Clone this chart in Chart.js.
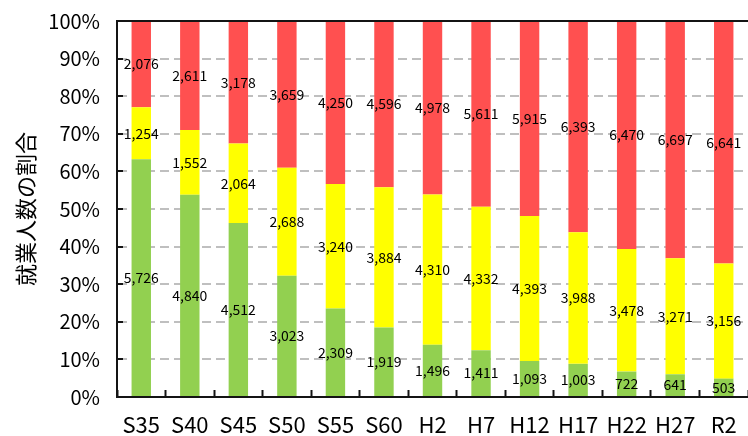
<!DOCTYPE html>
<html>
<head>
    <meta charset="utf-8">
    <script src="https://cdn.jsdelivr.net/npm/chart.js"></script>
    <style>
        body {
            margin: 0;
            background-color: #ffffff;
        }

        .chart-box {
            width: 748px;
            height: 436px;
        }
    </style>
</head>
<body>
    <div class="chart-box">
        <canvas id="workChart"></canvas>
    </div>

    <script>
        // 年次
        const years = ['S35', 'S40', 'S45', 'S50', 'S55', 'S60', 'H2', 'H7', 'H12', 'H17', 'H22', 'H27', 'R2'];

        // 就業人数（人）
        const primary = [5726, 4840, 4512, 3023, 2309, 1919, 1496, 1411, 1093, 1003, 722, 641, 503];
        const secondary = [1254, 1552, 2064, 2688, 3240, 3884, 4310, 4332, 4393, 3988, 3478, 3271, 3156];
        const tertiary = [2076, 2611, 3178, 3659, 4250, 4596, 4978, 5611, 5915, 6393, 6470, 6697, 6641];

        const yTicks = [0, 10, 20, 30, 40, 50, 60, 70, 80, 90, 100];

        const totals = years.map((y, i) => primary[i] + secondary[i] + tertiary[i]);
        const toShare = arr => arr.map((v, i) => v / totals[i] * 100);

        Chart.defaults.font.family = '"Noto Sans CJK JP", "Noto Sans", sans-serif';
        Chart.defaults.color = '#000000';

        // 値ラベル（各区分の中央に人数を表示）
        const valueLabels = {
            id: 'valueLabels',
            afterDatasetsDraw(chart) {
                const ctx = chart.ctx;
                ctx.save();
                ctx.font = '14px "Noto Sans CJK JP", sans-serif';
                ctx.fillStyle = '#000000';
                ctx.textAlign = 'center';
                ctx.textBaseline = 'middle';
                chart.data.datasets.forEach((ds, di) => {
                    const meta = chart.getDatasetMeta(di);
                    meta.data.forEach((bar, i) => {
                        ctx.fillText(ds.raw[i].toLocaleString('en-US'), bar.x, (bar.y + bar.base) / 2);
                    });
                });
                ctx.restore();
            }
        };

        // 枠線（上・左・下）をもう一度上から描く
        const frameLines = {
            id: 'frameLines',
            afterDraw(chart) {
                const ctx = chart.ctx;
                const a = chart.chartArea;
                ctx.save();
                ctx.setLineDash([]);
                ctx.globalAlpha = 1;
                ctx.strokeStyle = 'rgb(20, 20, 20)';
                ctx.lineWidth = 2;
                ctx.beginPath();
                ctx.moveTo(a.right, a.top);
                ctx.lineTo(a.left, a.top);
                ctx.lineTo(a.left, a.bottom);
                ctx.lineTo(a.right, a.bottom);
                ctx.stroke();
                ctx.restore();
            }
        };

        const noSidePadding = s => {
            s.paddingLeft = 0;
            s.paddingRight = 0;
        };

        new Chart(document.getElementById('workChart'), {
            type: 'bar',
            data: {
                labels: years,
                datasets: [
                    { label: '第1次産業', data: toShare(primary), raw: primary, backgroundColor: '#92d050' },
                    { label: '第2次産業', data: toShare(secondary), raw: secondary, backgroundColor: '#ffff00' },
                    { label: '第3次産業', data: toShare(tertiary), raw: tertiary, backgroundColor: '#ff5050' }
                ]
            },
            options: {
                responsive: true,
                maintainAspectRatio: false,
                animation: false,
                layout: { padding: { top: 21, right: 0, left: 0, bottom: 0 } },
                datasets: {
                    bar: { categoryPercentage: 1, barPercentage: 0.4, borderWidth: 0 }
                },
                plugins: {
                    legend: { display: false },
                    tooltip: { enabled: false }
                },
                scales: {
                    x: {
                        stacked: true,
                        grid: {
                            offset: true,
                            drawOnChartArea: false,
                            drawTicks: true,
                            tickLength: -7,
                            tickColor: '#141414',
                            tickWidth: 2
                        },
                        border: { display: true, color: '#141414', width: 2 },
                        ticks: { font: { size: 22 }, padding: 21, maxRotation: 0 },
                        afterFit: s => {
                            s.height = 39;
                            noSidePadding(s);
                        }
                    },
                    xTop: {
                        type: 'category',
                        position: 'top',
                        labels: years,
                        grid: { display: false },
                        ticks: { display: false },
                        border: { display: true, color: '#141414', width: 2 },
                        afterFit: s => {
                            s.height = 0;
                            noSidePadding(s);
                        }
                    },
                    y: {
                        stacked: true,
                        min: 0,
                        max: 100,
                        afterBuildTicks: s => { s.ticks = yTicks.map(v => ({ value: v })); },
                        grid: {
                            color: '#bfbfbf',
                            lineWidth: 2,
                            drawTicks: true,
                            tickLength: -6,
                            tickColor: '#141414',
                            tickWidth: 2
                        },
                        border: { display: true, color: '#141414', width: 2, dash: [9, 5] },
                        ticks: { font: { size: 20 }, padding: 23, callback: v => v + '%' },
                        title: {
                            display: true,
                            text: '就業人数の割合',
                            font: { size: 22 },
                            padding: { top: 12, bottom: 0 }
                        },
                        afterFit: s => {
                            s.width = 117;
                            s.paddingTop = 0;
                            s.paddingBottom = 0;
                        }
                    }
                }
            },
            plugins: [valueLabels, frameLines]
        });
    </script>
</body>
</html>
